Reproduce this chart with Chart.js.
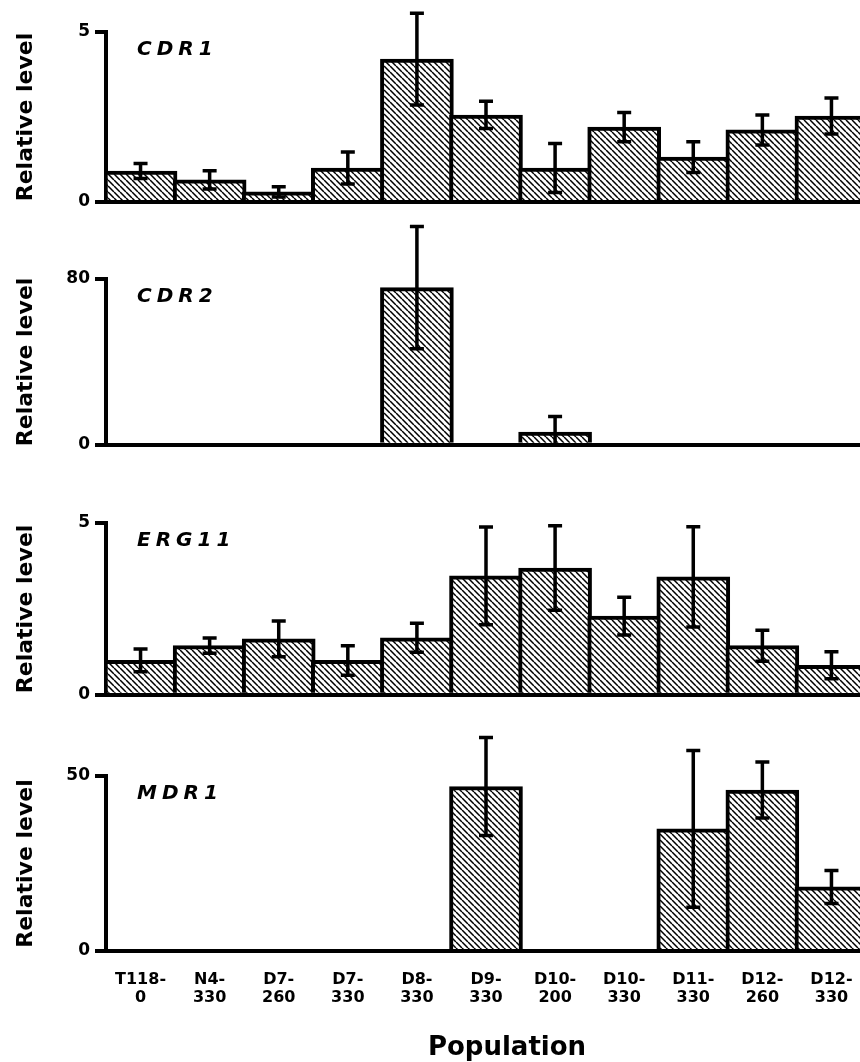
<!DOCTYPE html>
<html>
<head>
<meta charset="utf-8">
<script src="https://cdn.jsdelivr.net/npm/chart.js@4/dist/chart.umd.min.js"></script>
<style>
  html, body { margin: 0; padding: 0; background: #fff; overflow: hidden; }
  #figure { position: relative; width: 860px; height: 1062px; overflow: hidden; background: #fff; }
  #figure canvas { position: absolute; left: 0; }
</style>
</head>
<body>
<div id="figure">
  <canvas id="chart-cdr1" width="880" height="220" style="top:0px"></canvas>
  <canvas id="chart-cdr2" width="880" height="245" style="top:215px"></canvas>
  <canvas id="chart-erg11" width="880" height="240" style="top:470px"></canvas>
  <canvas id="chart-mdr1" width="880" height="342" style="top:720px"></canvas>
</div>
<script>
// DATA
const populations = [
  ["T118-", "0"], ["N4-", "330"], ["D7-", "260"], ["D7-", "330"], ["D8-", "330"],
  ["D9-", "330"], ["D10-", "200"], ["D10-", "330"], ["D11-", "330"], ["D12-", "260"], ["D12-", "330"],
];
const cdr1Level = [0.91, 0.65, 0.30, 1.00, 4.20, 2.56, 1.00, 2.20, 1.32, 2.12, 2.53];
const cdr1Error = [0.22, 0.27, 0.15, 0.47, 1.35, 0.40, 0.72, 0.43, 0.45, 0.44, 0.53];
const cdr2Level = [0, 0, 0, 0, 75.8, 0, 6.1, 0, 0, 0, 0];
const cdr2Error = [0, 0, 0, 0, 29.5, 0, 7.5, 0, 0, 0, 0];
const erg11Level = [1.00, 1.43, 1.63, 1.00, 1.66, 3.46, 3.69, 2.29, 3.43, 1.43, 0.86];
const erg11Error = [0.33, 0.22, 0.52, 0.43, 0.42, 1.42, 1.23, 0.55, 1.46, 0.45, 0.39];
const mdr1Level = [0, 0, 0, 0, 0, 47.0, 0, 0, 34.9, 46.0, 18.3];
const mdr1Error = [0, 0, 0, 0, 0, 14.0, 0, 0, 22.4, 8.0, 4.7];
const yAxisMax = [5, 80, 5, 50];
const yAxisTitle = "Relative level";
const xAxisTitle = "Population";

// LAYOUT (pixel positions of each panel in the page)
const panels = [
  { id: "chart-cdr1", gene: "CDR1", levels: cdr1Level, errors: cdr1Error, max: yAxisMax[0], top: 0, height: 220, areaTop: 32, areaBottom: 202 },
  { id: "chart-cdr2", gene: "CDR2", levels: cdr2Level, errors: cdr2Error, max: yAxisMax[1], top: 215, height: 245, areaTop: 279, areaBottom: 450 },
  { id: "chart-erg11", gene: "ERG11", levels: erg11Level, errors: erg11Error, max: yAxisMax[2], top: 470, height: 240, areaTop: 523, areaBottom: 698 },
  { id: "chart-mdr1", gene: "MDR1", levels: mdr1Level, errors: mdr1Error, max: yAxisMax[3], top: 720, height: 342, areaTop: 776, areaBottom: 951, bottom: true },
];
const FONT = "DejaVu Sans";
const AXIS_LEFT = 106;
const AREA_RIGHT = 866;
const CANVAS_WIDTH = 880;
const X_AXIS_HEIGHT = 60;
const HATCH = 6;

Chart.defaults.font.family = FONT;
Chart.defaults.font.weight = "bold";
Chart.defaults.color = "#000";

// hatch tile: "\" diagonal lines
const hatchTile = document.createElement("canvas");
hatchTile.width = HATCH;
hatchTile.height = HATCH;
(() => {
  const c = hatchTile.getContext("2d");
  c.fillStyle = "#fff";
  c.fillRect(0, 0, HATCH, HATCH);
  c.strokeStyle = "#000";
  c.lineWidth = 1.5;
  c.beginPath();
  for (const dx of [-HATCH, 0, HATCH]) {
    c.moveTo(dx, 0);
    c.lineTo(dx + HATCH, HATCH);
  }
  c.stroke();
})();

// PLUGINS
const errorBars = {
  id: "errorBars",
  afterDatasetsDraw(chart, args, opts) {
    const { ctx, scales: { x, y } } = chart;
    const levels = chart.data.datasets[0].data;
    ctx.save();
    ctx.strokeStyle = "#000";
    ctx.lineWidth = 3.5;
    levels.forEach((v, i) => {
      const e = opts.errors[i];
      if (!e) return;
      const px = x.getPixelForValue(i);
      const hi = y.getPixelForValue(v + e);
      const lo = y.getPixelForValue(Math.max(0, v - e));
      ctx.beginPath();
      ctx.moveTo(px, hi);
      ctx.lineTo(px, lo);
      ctx.moveTo(px - 7, hi);
      ctx.lineTo(px + 7, hi);
      ctx.moveTo(px - 7, lo);
      ctx.lineTo(px + 7, lo);
      ctx.stroke();
    });
    ctx.restore();
  },
};

const panelText = {
  id: "panelText",
  afterDraw(chart, args, opts) {
    const { ctx, chartArea } = chart;
    ctx.save();
    ctx.fillStyle = "#000";
    ctx.textBaseline = "middle";
    ctx.letterSpacing = "5px";
    ctx.font = `italic bold 20px "${FONT}"`;
    ctx.fillText(opts.gene, chartArea.left + 31, chartArea.top + 18);
    if (opts.footer) {
      ctx.letterSpacing = "0px";
      ctx.textAlign = "center";
      ctx.font = `bold 26px "${FONT}"`;
      ctx.fillText(opts.footer, 507, chart.height - 14);
    }
    ctx.restore();
  },
};

// CHARTS
const renderPanel = (p) => {
  const canvas = document.getElementById(p.id);
  const xHeight = p.bottom ? X_AXIS_HEIGHT : 0;
  const config = {
    type: "bar",
    data: {
      labels: populations,
      datasets: [
        {
          data: p.levels,
          backgroundColor: (c) => c.chart.ctx.createPattern(hatchTile, "repeat"),
          borderColor: "#000",
          borderWidth: 4,
          borderSkipped: "bottom",
          barThickness: 73,
        },
      ],
    },
    options: {
      responsive: false,
      animation: false,
      events: [],
      layout: {
        padding: {
          top: p.areaTop - p.top,
          bottom: p.top + p.height - p.areaBottom - xHeight,
          left: 0,
          right: CANVAS_WIDTH - AREA_RIGHT,
        },
      },
      scales: {
        x: {
          type: "category",
          afterFit: (scale) => { scale.height = xHeight; },
          border: { display: true, color: "#000", width: 4 },
          grid: { display: false, drawTicks: false },
          ticks: {
            display: !!p.bottom,
            autoSkip: false,
            maxRotation: 0,
            padding: 20,
            font: { size: 16, weight: "bold", lineHeight: 1.125 },
          },
        },
        y: {
          min: 0,
          max: p.max,
          afterFit: (scale) => { scale.width = AXIS_LEFT; },
          border: { display: true, color: "#000", width: 4 },
          grid: { display: true, drawOnChartArea: false, drawTicks: true, tickLength: 11, lineWidth: 4, color: "#000" },
          ticks: { stepSize: p.max, padding: 5, font: { size: 17, weight: "bold" } },
          title: {
            display: true,
            text: yAxisTitle,
            font: { size: 22, weight: "bold", lineHeight: 1.2 },
            padding: { top: 13, bottom: 0 },
          },
        },
      },
      plugins: {
        legend: { display: false },
        tooltip: { enabled: false },
        errorBars: { errors: p.errors },
        panelText: { gene: p.gene, footer: p.bottom ? xAxisTitle : null },
      },
    },
    plugins: [errorBars, panelText],
  };
  return new Chart(canvas, config);
};

const charts = panels.map(renderPanel);
</script>
</body>
</html>
